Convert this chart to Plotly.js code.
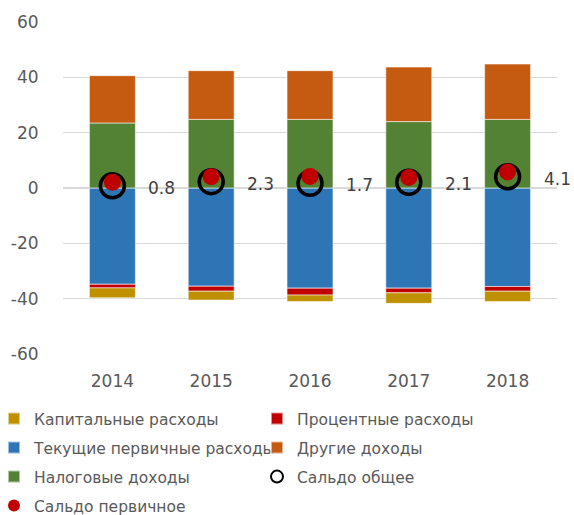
<!DOCTYPE html>
<html>
<head>
<meta charset="utf-8">
<script src="https://cdn.plot.ly/plotly-3.0.1.min.js"></script>
<style>html,body{margin:0;padding:0;background:#fff;}#chart{width:574px;height:515px;}</style>
</head>
<body>
<div id="chart"></div>
<script>
const years = [2014, 2015, 2016, 2017, 2018];
const yearLabels = ['2014', '2015', '2016', '2017', '2018'];
const capitalExp = [-3.6, -3.2, -2.3, -3.8, -3.7];
const interestExp = [-1.3, -1.8, -2.5, -1.7, -1.7];
const currentPrimaryExp = [-34.8, -35.5, -36.2, -36.2, -35.6];
const otherRev = [17.1, 17.6, 17.6, 19.7, 20.0];
const taxRev = [23.5, 24.8, 24.8, 24.0, 24.8];
const balanceTotal = [0.8, 2.3, 1.7, 2.1, 4.1];
const balancePrimary = [2.1, 4.1, 4.2, 3.8, 5.8];
const balanceLabels = ['0.8', '2.3', '1.7', '2.1', '4.1'];
const yTickVals = [-60, -40, -20, 0, 20, 40, 60];
const yTickText = ['-60', '-40', '-20', '0', '20', '40', '60'];

const FONT = 'DejaVu Sans, sans-serif';
const edge = {color: 'rgba(255,255,255,0.55)', width: 1};

function bar(name, y, color, legend) {
  return {type: 'bar', name: name, x: years, y: y, legend: legend,
    marker: {color: color, line: edge}, hoverinfo: 'name+y'};
}

const data = [
  bar('Текущие первичные расходы', currentPrimaryExp, '#2E75B6', 'legend3'),
  bar('Процентные расходы', interestExp, '#C00000', 'legend2'),
  bar('Капитальные расходы', capitalExp, '#BF9000', 'legend'),
  bar('Налоговые доходы', taxRev, '#548235', 'legend5'),
  bar('Другие доходы', otherRev, '#C55A11', 'legend4'),
  {type: 'scatter', mode: 'markers', name: 'Сальдо общее', x: years, y: balanceTotal,
    legend: 'legend6',
    marker: {symbol: 'circle-open', size: 24, color: '#000000', line: {width: 3.5, color: '#000000'}}},
  {type: 'scatter', mode: 'markers', name: 'Сальдо первичное', x: years, y: balancePrimary,
    legend: 'legend7',
    marker: {symbol: 'circle', size: 17, color: '#C00000'}}
];

const annotations = years.map((yr, i) => ({
  x: yr, y: balanceTotal[i], text: balanceLabels[i], showarrow: false,
  xanchor: 'left', yanchor: 'middle', xshift: 34, yshift: -2,
  font: {family: FONT, size: 17, color: '#404040'}
}));

const PLOT_L = 63, PLOT_W = 574 - 63 - 17;
function leg(leftPx, midPx) {
  return {orientation: 'v', xref: 'paper', yref: 'container', x: (leftPx - PLOT_L) / PLOT_W, xanchor: 'left',
    y: 1 - midPx / 515, yanchor: 'middle',
    itemsizing: 'constant',
    font: {family: FONT, size: 15.5, color: '#595959'}, bgcolor: 'rgba(0,0,0,0)'};
}

const layout = {
  width: 574, height: 515,
  margin: {l: PLOT_L, r: 17, t: 22, b: 161, autoexpand: false},
  paper_bgcolor: '#ffffff', plot_bgcolor: '#ffffff',
  barmode: 'relative', bargap: 0.535,
  font: {family: FONT, size: 17, color: '#595959'},
  showlegend: true,
  xaxis: {type: 'linear', range: [2013.5, 2018.5], tickvals: years, ticktext: yearLabels,
    showgrid: false, zeroline: false, showline: false, automargin: false,
    ticks: 'outside', ticklen: 12, tickcolor: 'rgba(0,0,0,0)',
    tickfont: {family: FONT, size: 17, color: '#595959'}},
  yaxis: {range: [-60, 60], tickvals: yTickVals, ticktext: yTickText, automargin: false,
    showgrid: true, gridcolor: '#D9D9D9', gridwidth: 1.5,
    zeroline: true, zerolinecolor: '#D9D9D9', zerolinewidth: 1.5, showline: false,
    ticks: 'outside', ticklen: 20, tickcolor: 'rgba(0,0,0,0)',
    tickfont: {family: FONT, size: 17, color: '#595959'}},
  legend: leg(-6, 419), legend2: leg(257, 419),
  legend3: leg(-6, 448), legend4: leg(257, 448),
  legend5: leg(-6, 477), legend6: leg(257, 477),
  legend7: leg(-6, 506),
  annotations: annotations
};

Plotly.newPlot('chart', data, layout, {displayModeBar: false, staticPlot: true});
</script>
</body>
</html>
